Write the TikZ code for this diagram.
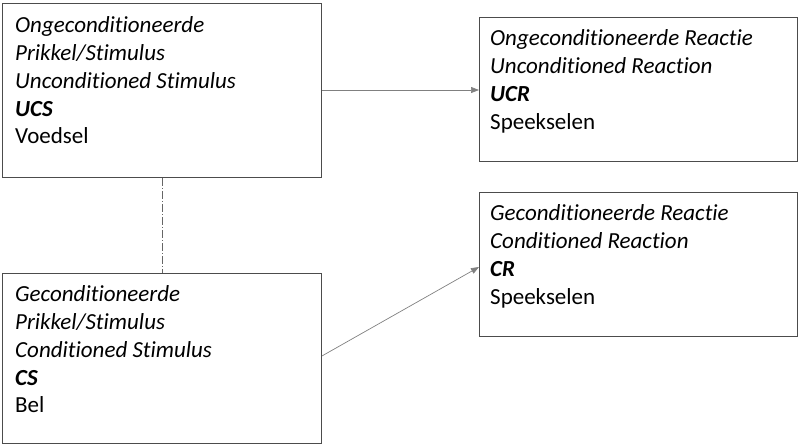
\documentclass[tikz,border=0pt]{standalone}
\usepackage{fontspec}
\setmainfont[Ligatures=NoCommon]{Carlito}
\usetikzlibrary{arrows.meta}
\begin{document}
\begin{tikzpicture}[x=1pt,y=-1pt,
  box/.style={draw=black!70,line width=0.9pt,anchor=north west,inner sep=0pt},
  txt/.style={anchor=north west,align=left,inner sep=0pt,font=\fontsize{23}{27.8}\selectfont},
  conn/.style={draw=black!50,line width=0.7pt,-{Triangle[length=8pt,width=6pt]}}]
\useasboundingbox (0,0) rectangle (800,445);
\node[box,minimum width=319pt,minimum height=174pt] (ucs) at (2,3) {};
\node[box,minimum width=319pt,minimum height=170pt] (cs) at (2,273) {};
\node[box,minimum width=318pt,minimum height=144pt] (ucr) at (479,17) {};
\node[box,minimum width=318pt,minimum height=144pt] (cr) at (479,192) {};
\node[txt] (ucst) at ([shift={(13,13.5)}]ucs.north west) {\itshape Ongeconditioneerde\\\itshape Prikkel/Stimulus\\\itshape Unconditioned Stimulus\\\bfseries\itshape UCS\\Voedsel};
\node[txt] (cst) at ([shift={(13,12.5)}]cs.north west) {\itshape Geconditioneerde\\\itshape Prikkel/Stimulus\\\itshape Conditioned Stimulus\\\bfseries\itshape CS\\Bel};
\node[txt] (ucrt) at ([shift={(11,12.5)}]ucr.north west) {\itshape Ongeconditioneerde Reactie\\\itshape Unconditioned Reaction\\\bfseries\itshape UCR\\Speekselen};
\node[txt] (crt) at ([shift={(11,12.5)}]cr.north west) {\itshape Geconditioneerde Reactie\\\itshape Conditioned Reaction\\\bfseries\itshape CR\\Speekselen};
\draw[conn] (ucs.east |- 0,90) -- (ucr.west |- 0,90);
\draw[conn] (cs.east |- 0,356) -- (cr.west |- 0,267);
\draw[draw=black!60,line width=0.7pt,dash pattern=on 8pt off 2pt on 1pt off 2pt] (ucs.south) -- (cs.north);
\end{tikzpicture}
\end{document}
